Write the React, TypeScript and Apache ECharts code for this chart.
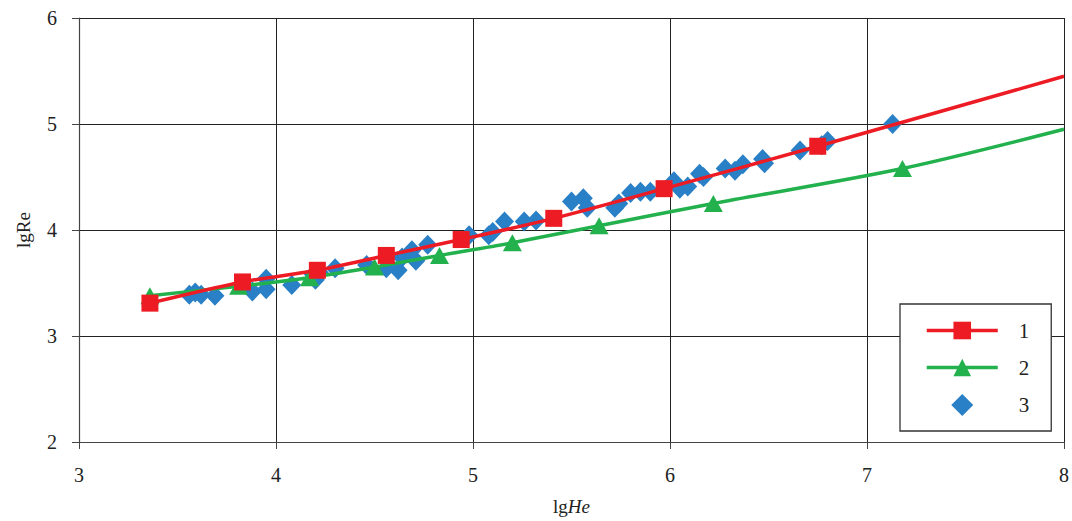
import React, { useEffect, useRef } from "react";
import * as echarts from "echarts";

// Series 1 (red squares) and its line end point
const s1X = [3.36, 3.83, 4.21, 4.56, 4.94, 5.41, 5.97, 6.75];
const s1Y = [3.31, 3.51, 3.62, 3.76, 3.91, 4.11, 4.39, 4.79];
const s1End = [8, 5.45];

// Series 2 (green triangles) and its line end point
const s2X = [3.36, 3.81, 4.17, 4.5, 4.83, 5.2, 5.64, 6.22, 7.18];
const s2Y = [3.38, 3.47, 3.55, 3.65, 3.76, 3.88, 4.04, 4.25, 4.58];
const s2End = [8, 4.95];

// Series 3 (blue diamonds)
const s3X = [3.56, 3.59, 3.62, 3.69, 3.88, 3.95, 3.95, 4.08, 4.19, 4.2, 4.22, 4.3, 4.46, 4.56, 4.62, 4.64, 4.69, 4.71, 4.77, 4.98, 5.08, 5.1, 5.16, 5.26, 5.32, 5.5, 5.56, 5.58, 5.72, 5.74, 5.8, 5.85, 5.9, 6.02, 6.05, 6.09, 6.15, 6.17, 6.28, 6.33, 6.37, 6.47, 6.48, 6.66, 6.77, 6.8, 7.13];
const s3Y = [3.39, 3.41, 3.39, 3.38, 3.42, 3.44, 3.54, 3.48, 3.58, 3.53, 3.6, 3.64, 3.67, 3.64, 3.62, 3.74, 3.81, 3.71, 3.86, 3.95, 3.95, 3.98, 4.08, 4.08, 4.09, 4.27, 4.3, 4.21, 4.21, 4.25, 4.35, 4.36, 4.36, 4.46, 4.39, 4.41, 4.53, 4.5, 4.58, 4.56, 4.62, 4.67, 4.63, 4.75, 4.8, 4.84, 5.0];

const seriesNames = ["1", "2", "3"];
const xTicks = { min: 3, max: 8, interval: 1 };
const yTicks = { min: 2, max: 6, interval: 1 };

const RED = "#ED1C24";
const GREEN = "#22B14C";
const BLUE = "#2A80C6";
const FONT = "Liberation Serif";
const DIAMOND = "path://M10,0 L20,10 L10,20 L0,10 Z";

export default function App() {
  const ref = useRef<HTMLDivElement>(null);
  useEffect(() => {
    if (!ref.current) return;
    const chart = echarts.init(ref.current, null, { renderer: "svg" });

    const lineData = (xs: number[], ys: number[], end: number[]) => {
      const d: any[] = xs.map((x, i) => [x, ys[i]]);
      d.push({ value: end, symbol: "none" });
      return d;
    };

    chart.setOption({
      animation: false,
      backgroundColor: "#fff",
      grid: { left: 79, right: 4, top: 18, bottom: 75 },
      xAxis: {
        type: "value",
        min: xTicks.min,
        max: xTicks.max,
        interval: xTicks.interval,
        name: "{n|lg}{i|He}",
        nameLocation: "middle",
        nameGap: 55,
        nameTextStyle: {
          rich: {
            n: { fontFamily: FONT, fontSize: 19, color: "#222" },
            i: { fontFamily: FONT, fontSize: 19, fontStyle: "italic", color: "#222" },
          },
        },
        axisLine: { show: true, lineStyle: { color: "#444", width: 1.2 } },
        axisTick: { show: true, length: 7, lineStyle: { color: "#444" } },
        axisLabel: { fontFamily: FONT, fontSize: 20, color: "#222", margin: 23 },
        splitLine: { show: true, lineStyle: { color: "#222", width: 1 } },
      },
      yAxis: {
        type: "value",
        min: yTicks.min,
        max: yTicks.max,
        interval: yTicks.interval,
        name: "lgRe",
        nameLocation: "middle",
        nameGap: 46,
        nameTextStyle: { fontFamily: FONT, fontSize: 19, color: "#222" },
        axisLine: { show: true, lineStyle: { color: "#444", width: 1.2 } },
        axisTick: { show: true, length: 7, lineStyle: { color: "#444" } },
        axisLabel: { fontFamily: FONT, fontSize: 20, color: "#222", margin: 22 },
        splitLine: { show: true, lineStyle: { color: "#222", width: 1 } },
      },
      legend: {
        data: [
          { name: seriesNames[0], lineStyle: { width: 3.5 } },
          { name: seriesNames[1], lineStyle: { width: 3.5 } },
          { name: seriesNames[2] },
        ],
        orient: "vertical",
        left: 900,
        top: 304,
        padding: [16, 22, 15, 25],
        itemWidth: 71,
        itemHeight: 22,
        itemGap: 16,
        symbolKeepAspect: true,
        backgroundColor: "#fff",
        borderColor: "#333",
        borderWidth: 1.3,
        borderRadius: 0,
        textStyle: { fontFamily: FONT, fontSize: 21, color: "#222", padding: [0, 0, 0, 16] },
      },
      series: [
        {
          name: seriesNames[2],
          type: "scatter",
          symbol: DIAMOND,
          symbolSize: [19, 20],
          symbolKeepAspect: false,
          itemStyle: { color: BLUE, opacity: 1 },
          data: s3X.map((x, i) => [x, s3Y[i]]),
          z: 2,
        },
        {
          name: seriesNames[0],
          type: "line",
          smooth: 0.3,
          symbol: "rect",
          symbolSize: 17,
          showAllSymbol: true,
          itemStyle: { color: RED },
          lineStyle: { color: RED, width: 3.5 },
          data: lineData(s1X, s1Y, s1End),
          z: 4,
        },
        {
          name: seriesNames[1],
          type: "line",
          smooth: 0.3,
          symbol: "triangle",
          symbolSize: [19, 17],
          showAllSymbol: true,
          itemStyle: { color: GREEN },
          lineStyle: { color: GREEN, width: 3.5 },
          data: lineData(s2X, s2Y, s2End),
          z: 3,
        },
      ],
    });
    return () => chart.dispose();
  }, []);
  return (
    <div
      ref={ref}
      style={{ position: "fixed", left: 0, top: 0, width: 1072, height: 521 }}
    />
  );
}
